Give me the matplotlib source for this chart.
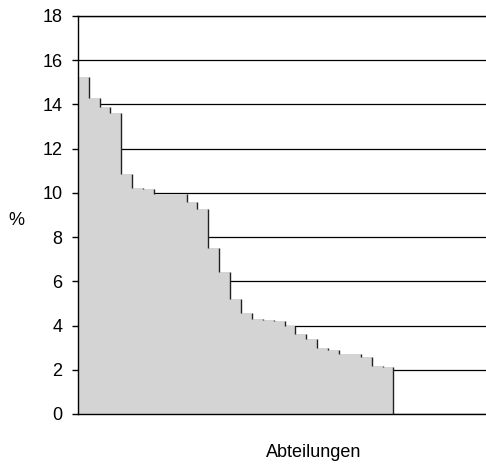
import matplotlib
matplotlib.use("Agg")
import matplotlib.pyplot as plt
import numpy as np

plt.rcParams['font.family'] = ['Liberation Sans', 'DejaVu Sans']

# share per department, sorted descending (%)
values = [15.26, 14.29, 13.88, 13.63, 10.84, 10.24, 10.18, 9.97, 9.96, 9.94,
          9.59, 9.27, 7.52, 6.41, 5.20, 4.55, 4.31, 4.27, 4.22, 3.98,
          3.62, 3.39, 2.97, 2.91, 2.73, 2.70, 2.58, 2.17, 2.14]
n_slots = 38
yticks = [0, 2, 4, 6, 8, 10, 12, 14, 16, 18]

fig = plt.figure(figsize=(4.86, 4.65), dpi=100)
ax = fig.add_axes([0.16, 0.1097, 0.851, 0.8559])

x = np.arange(len(values))
ax.bar(x, values, width=1.0, align='edge', color='#d4d4d4', edgecolor='none', zorder=2)

# step edges on the right side of every bar
nxt = values[1:] + [0]
ax.vlines(x + 1, nxt, values, color='#222222', linewidth=1.0, zorder=3)

ax.set_xlim(0, n_slots)
ax.set_ylim(0, 18)
ax.set_yticks(yticks)
ax.set_xticks([])
ax.yaxis.grid(True, color='black', linewidth=0.9)
ax.set_axisbelow(True)
ax.tick_params(axis='y', direction='out', length=4, width=1, labelsize=13, pad=7)
for s in ax.spines.values():
    s.set_color('black')
    s.set_linewidth(1.0)
ax.spines['left'].set_zorder(4)

fig.text(16 / 486, 1 - 220 / 465, '%', fontsize=13, ha='center', va='center')
fig.text(314 / 486, 1 - 452 / 465, 'Abteilungen', fontsize=13, ha='center', va='center')

fig.savefig('out.png', dpi=100)
